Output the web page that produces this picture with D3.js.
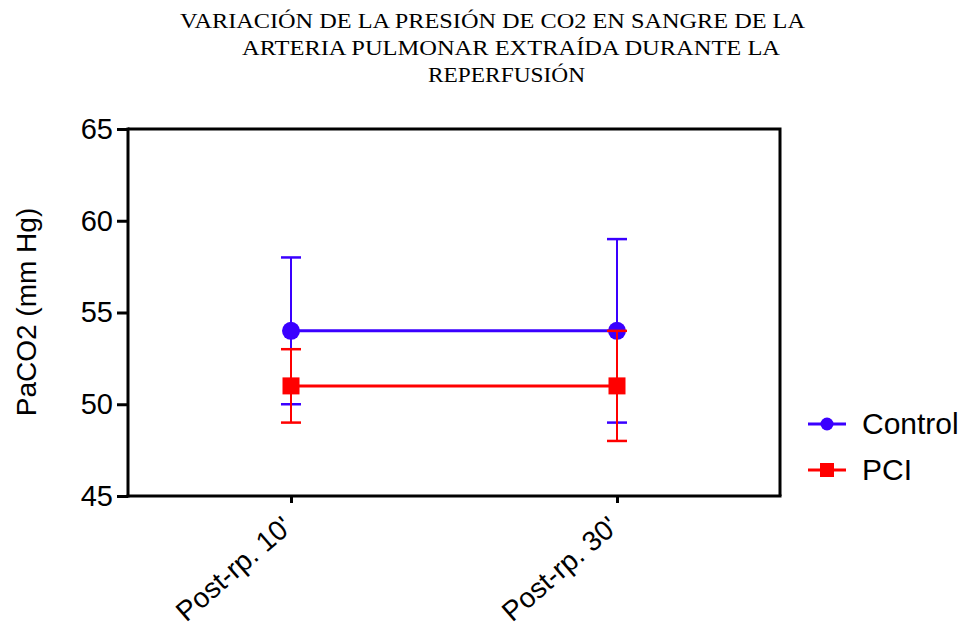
<!DOCTYPE html>
<html>
<head>
<meta charset="utf-8">
<script src="https://cdn.jsdelivr.net/npm/d3@7"></script>
<style>
  html, body { margin: 0; padding: 0; background: #fff; }
  svg { display: block; }
</style>
</head>
<body>
<svg id="chart" width="966" height="629"></svg>
<script>
const titleLines = [
  "VARIACIÓN DE LA PRESIÓN DE CO2 EN SANGRE DE LA",
  "ARTERIA PULMONAR EXTRAÍDA DURANTE LA",
  "REPERFUSIÓN"
];
const categories = ["Post-rp. 10'", "Post-rp. 30'"];
const seriesNames = ["Control", "PCI"];
const controlMean = [54, 54];
const controlUpper = [58, 59];
const controlLower = [50, 49];
const pciMean = [51, 51];
const pciUpper = [53, 54];
const pciLower = [49, 48];
const yTicks = [45, 50, 55, 60, 65];
const yLabel = "PaCO2 (mm Hg)";

const colors = { Control: "#3a00ff", PCI: "#ff0000" };

const svg = d3.select("#chart");
const pLeft = 128, pRight = 780, pTop = 129, pBottom = 496;

const x = d3.scalePoint().domain(categories).range([pLeft, pRight]).padding(0.5);
const y = d3.scaleLinear().domain([45, 65]).range([pBottom, pTop]);

// Title
const titlePos = [
  { x: 180, y: 28, len: 625 },
  { x: 242, y: 55, len: 538 },
  { x: 428, y: 82, len: 157 }
];
svg.append("g").selectAll("text").data(titleLines).join("text")
  .attr("x", (d, i) => titlePos[i].x)
  .attr("y", (d, i) => titlePos[i].y)
  .attr("textLength", (d, i) => titlePos[i].len)
  .attr("lengthAdjust", "spacingAndGlyphs")
  .attr("font-family", "'Liberation Serif', 'Times New Roman', serif")
  .attr("font-size", 20.5)
  .attr("fill", "#000")
  .text(d => d);

// Frame (top & right)
svg.append("path")
  .attr("d", `M${pLeft},${pTop}H${pRight}V${pBottom}`)
  .attr("fill", "none").attr("stroke", "#000").attr("stroke-width", 3);

// Y axis
const yAxis = svg.append("g").attr("transform", `translate(${pLeft},0)`)
  .call(d3.axisLeft(y).tickValues(yTicks).tickSize(11).tickPadding(4).tickFormat(d3.format("d")));
yAxis.select(".domain").attr("stroke", "#000").attr("stroke-width", 3)
  .attr("d", `M0,${pTop - 1.5}V${pBottom + 1.5}`);
yAxis.selectAll(".tick line").attr("stroke", "#000").attr("stroke-width", 3);
yAxis.selectAll(".tick text")
  .attr("font-family", "'Liberation Sans', Arial, sans-serif")
  .attr("font-size", 29).attr("fill", "#000");

// X axis
const xAxis = svg.append("g").attr("transform", `translate(0,${pBottom})`)
  .call(d3.axisBottom(x).tickSize(7).tickPadding(4));
xAxis.select(".domain").attr("stroke", "#000").attr("stroke-width", 3)
  .attr("d", `M${pLeft - 1.5},0H${pRight + 1.5}`);
xAxis.selectAll(".tick line").attr("stroke", "#000").attr("stroke-width", 3);
xAxis.selectAll(".tick text")
  .attr("font-family", "'Liberation Sans', Arial, sans-serif")
  .attr("font-size", 28).attr("fill", "#000")
  .attr("text-anchor", "end")
  .attr("dy", "0")
  .attr("transform", "translate(-5,25) rotate(-41)");

// Y label
svg.append("text")
  .attr("transform", "translate(36,312) rotate(-90)")
  .attr("text-anchor", "middle")
  .attr("font-family", "'Liberation Sans', Arial, sans-serif")
  .attr("font-size", 28).attr("fill", "#000")
  .text(yLabel);

// Series
const series = [
  { name: "Control", mean: controlMean, upper: controlUpper, lower: controlLower, shape: "circle" },
  { name: "PCI", mean: pciMean, upper: pciUpper, lower: pciLower, shape: "square" }
];

const line = d3.line().x(d => x(d.cat)).y(d => y(d.v));

series.forEach(s => {
  const pts = categories.map((c, i) => ({ cat: c, v: s.mean[i], hi: s.upper[i], lo: s.lower[i] }));
  const g = svg.append("g");
  const col = colors[s.name];
  g.append("path").datum(pts).attr("d", line)
    .attr("fill", "none").attr("stroke", col).attr("stroke-width", 3);
  g.selectAll(".eb").data(pts).join("line")
    .attr("x1", d => x(d.cat)).attr("x2", d => x(d.cat))
    .attr("y1", d => y(d.hi)).attr("y2", d => y(d.lo))
    .attr("stroke", col).attr("stroke-width", 2);
  pts.forEach(d => {
    [d.hi, d.lo].forEach(v => {
      g.append("line")
        .attr("x1", x(d.cat) - 10).attr("x2", x(d.cat) + 10)
        .attr("y1", y(v)).attr("y2", y(v))
        .attr("stroke", col).attr("stroke-width", 2.5);
    });
  });
  if (s.shape === "circle") {
    g.selectAll("circle").data(pts).join("circle")
      .attr("cx", d => x(d.cat)).attr("cy", d => y(d.v)).attr("r", 9).attr("fill", col);
  } else {
    g.selectAll("rect").data(pts).join("rect")
      .attr("x", d => x(d.cat) - 8.5).attr("y", d => y(d.v) - 8.5)
      .attr("width", 17).attr("height", 17).attr("fill", col);
  }
});

// Legend
const legend = svg.append("g");
seriesNames.forEach((name, i) => {
  const ly = 424 + i * 46;
  const col = colors[name];
  legend.append("line").attr("x1", 808).attr("x2", 846).attr("y1", ly).attr("y2", ly)
    .attr("stroke", col).attr("stroke-width", 3);
  if (name === "Control") {
    legend.append("circle").attr("cx", 827).attr("cy", ly).attr("r", 6.5).attr("fill", col);
  } else {
    legend.append("rect").attr("x", 820).attr("y", ly - 7).attr("width", 14).attr("height", 14).attr("fill", col);
  }
  legend.append("text").attr("x", 862).attr("y", ly + 10)
    .attr("font-family", "'Liberation Sans', Arial, sans-serif")
    .attr("font-size", 30).attr("fill", "#000")
    .text(name);
});
</script>
</body>
</html>
